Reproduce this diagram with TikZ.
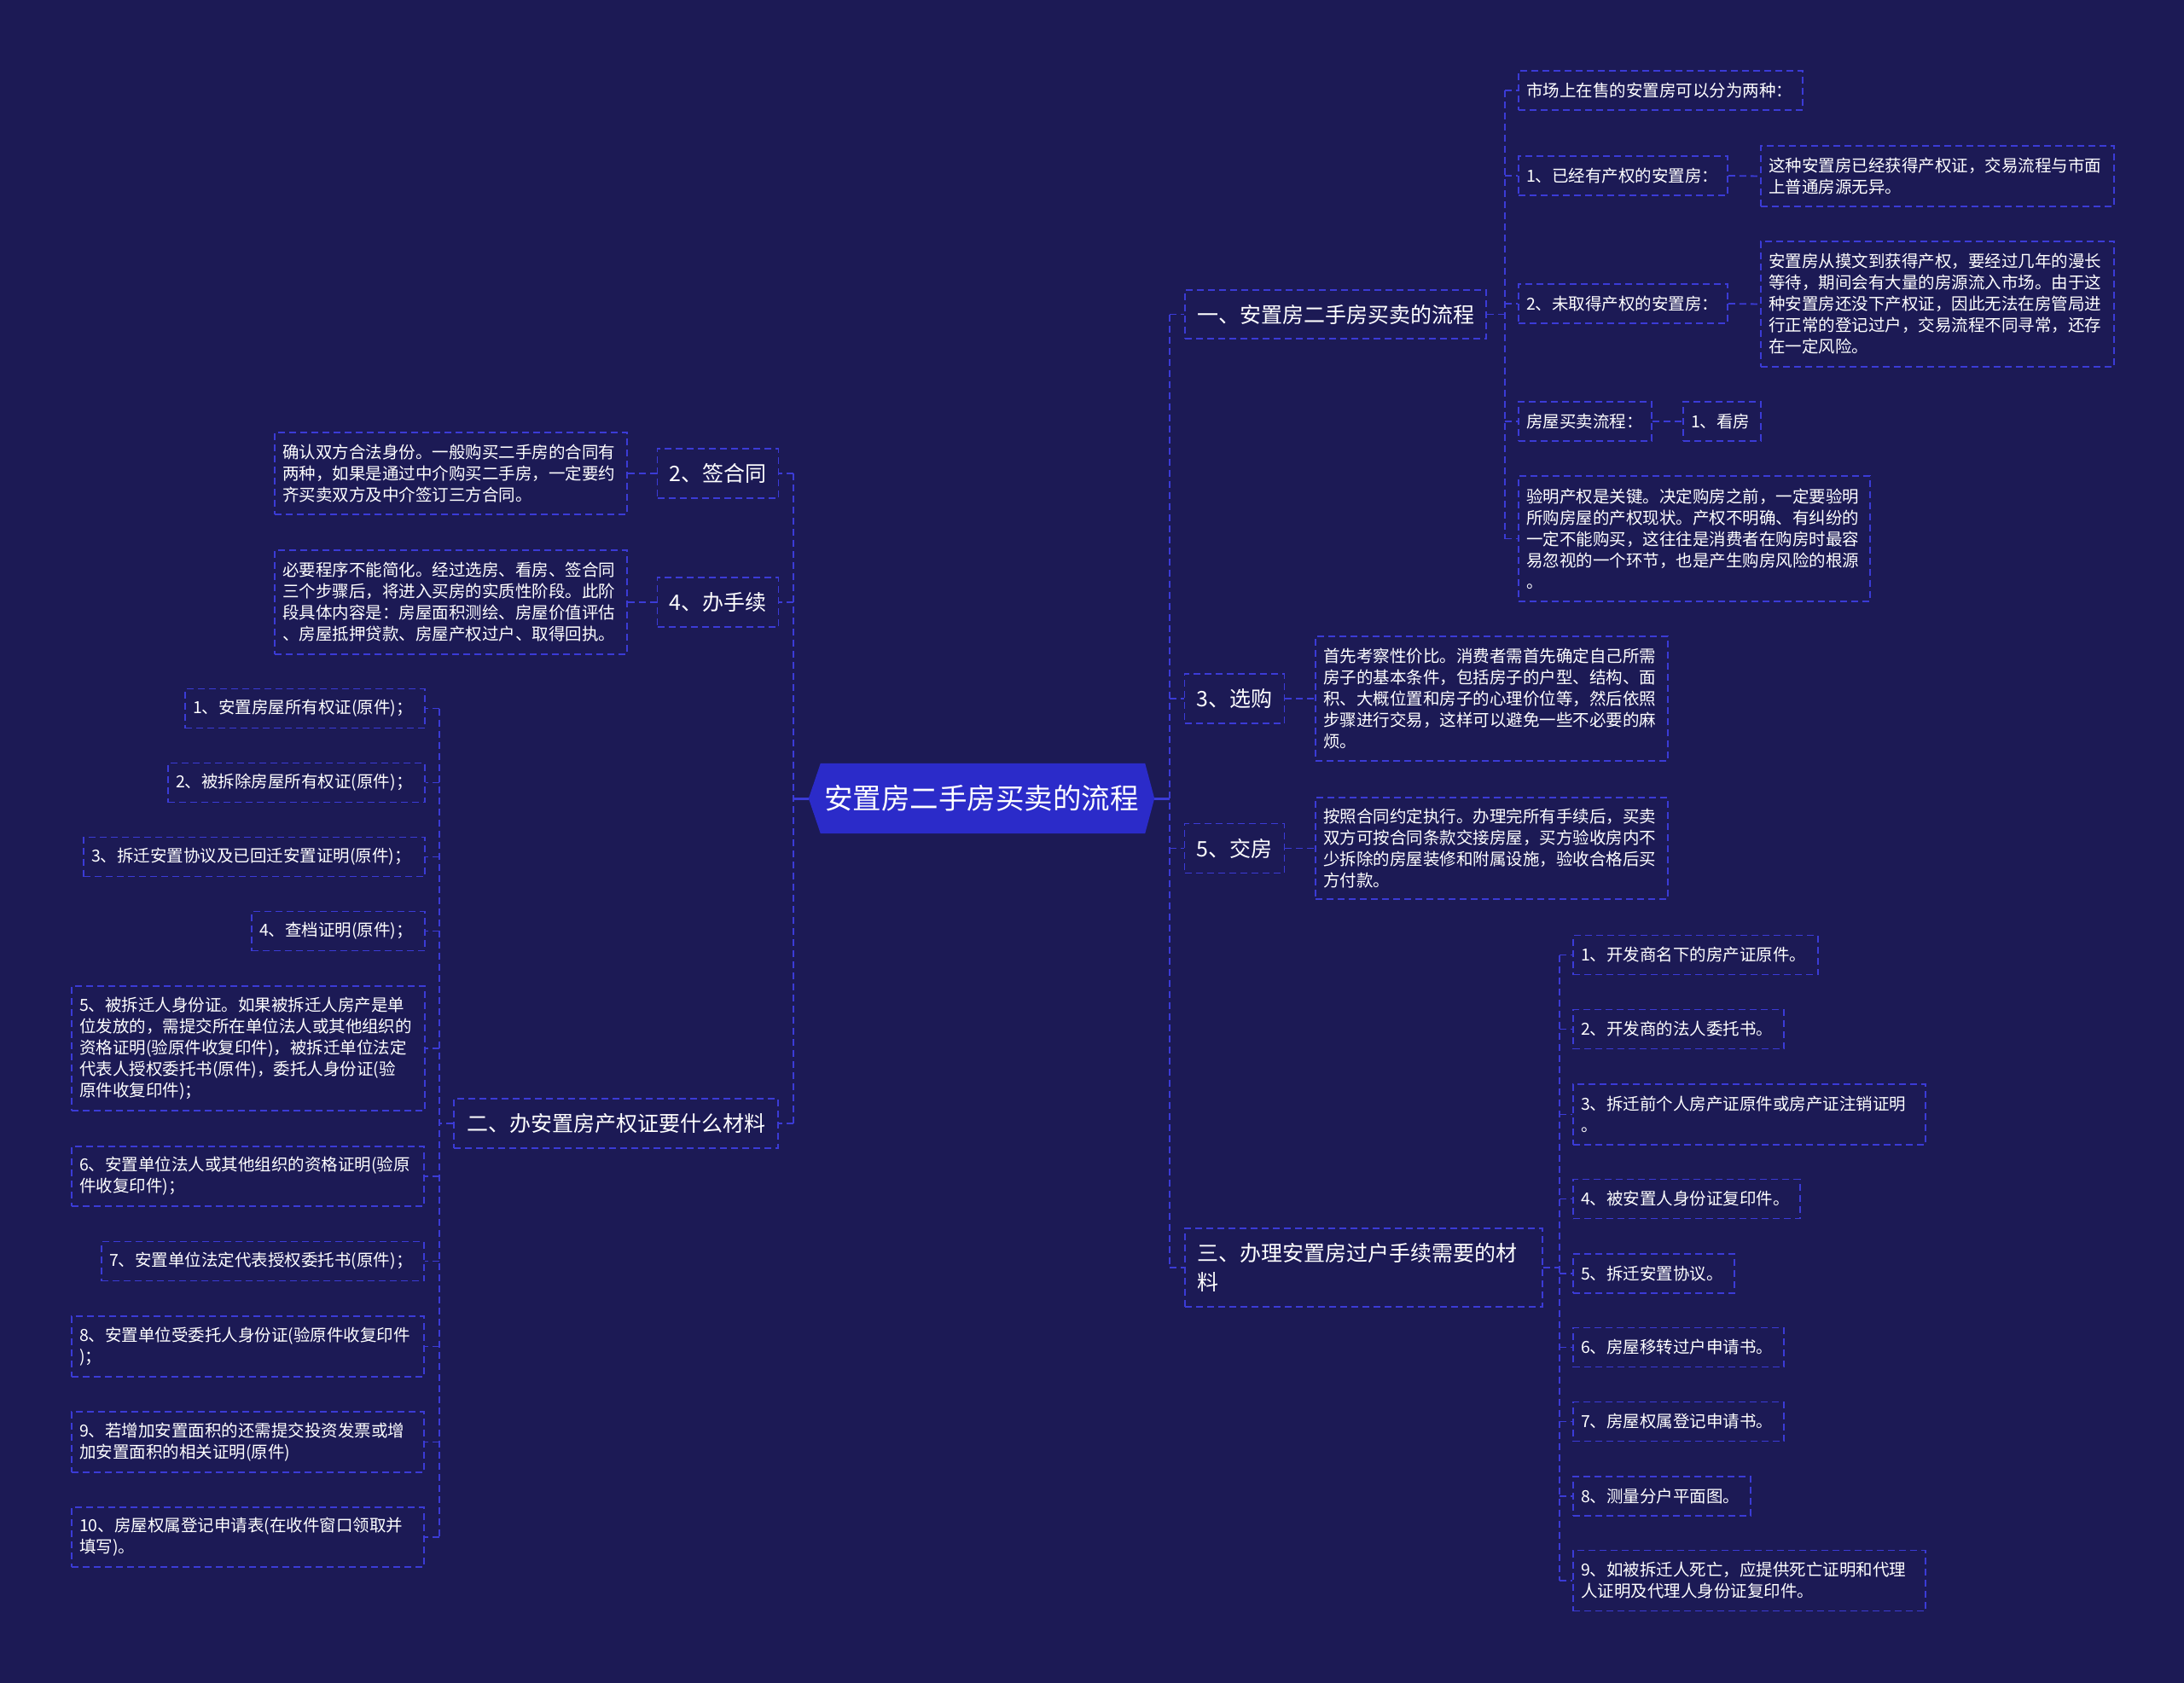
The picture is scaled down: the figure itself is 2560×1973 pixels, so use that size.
\documentclass[tikz,border=0pt]{standalone}
\usepackage{fontspec}
\setmainfont{Noto Sans CJK SC}
\usetikzlibrary{calc,backgrounds}
\definecolor{bgc}{RGB}{28,26,85}
\definecolor{lc}{RGB}{59,59,214}
\definecolor{cfill}{RGB}{43,43,201}
\begin{document}
\begin{tikzpicture}[x=1pt,y=-1pt,
  conn/.style={draw=lc,line width=1.8pt,dash pattern=on 8pt off 5pt},
  solidc/.style={draw=lc,line width=3pt},
  leaf/.style={draw=lc,line width=1.8pt,dash pattern=on 8pt off 5pt,text=white,
    font=\fontsize{19.5}{25}\selectfont,align=left,inner xsep=9pt,inner ysep=0pt},
  mainb/.style={draw=lc,line width=1.8pt,dash pattern=on 8pt off 5pt,text=white,
    font=\fontsize{25}{34}\selectfont,inner xsep=14pt,inner ysep=0pt,align=center},
  centre/.style={text=white,font=\fontsize{33.5}{40}\selectfont,inner sep=0pt,
    minimum width=405pt,minimum height=82pt}
]
\useasboundingbox (0,0) rectangle (2560,1973);

% centre
\node[centre] (c) at (1150.5,936) {安置房二手房买卖的流程};
\begin{scope}[on background layer]
\fill[bgc] (0,0) rectangle (2560,1973);
\fill[cfill] (c.west) -- ($(c.north west)+(14,0)$) -- ($(c.north east)+(-11,0)$) -- (c.east)
  -- ($(c.south east)+(-11,0)$) -- ($(c.south west)+(14,0)$) -- cycle;
\end{scope}

% ---------- right side ----------
\node[mainb,minimum width=353pt,minimum height=57pt] (A) at (1565.5,368.5) {一、安置房二手房买卖的流程};
\node[leaf,text width=315pt,minimum height=46pt] (A1) at (1946.5,106) {市场上在售的安置房可以分为两种：};
\node[leaf,text width=227pt,minimum height=46pt] (A2) at (1902.5,206) {1、已经有产权的安置房：};
\node[leaf,text width=396pt,minimum height=71pt] (A2r) at (2271,206.5) {这种安置房已经获得产权证，交易流程与市面\\上普通房源无异。};
\node[leaf,text width=227pt,minimum height=46pt] (A3) at (1902.5,356) {2、未取得产权的安置房：};
\node[leaf,text width=396pt,minimum height=147pt] (A3r) at (2271,356.5) {安置房从摸文到获得产权，要经过几年的漫长\\等待，期间会有大量的房源流入市场。由于这\\种安置房还没下产权证，因此无法在房管局进\\行正常的登记过户，交易流程不同寻常，还存\\在一定风险。};
\node[leaf,text width=138pt,minimum height=46pt] (A4) at (1858,494) {房屋买卖流程：};
\node[leaf,text width=73pt,minimum height=46pt] (A4r) at (2018.5,494) {1、看房};
\node[leaf,text width=394pt,minimum height=147pt] (A5) at (1986,631.5) {验明产权是关键。决定购房之前，一定要验明\\所购房屋的产权现状。产权不明确、有纠纷的\\一定不能购买，这往往是消费者在购房时最容\\易忽视的一个环节，也是产生购房风险的根源\\。};

\node[mainb,minimum width=116pt,minimum height=58pt] (B) at (1447,819) {3、选购};
\node[leaf,text width=395pt,minimum height=146pt] (Br) at (1748.5,819) {首先考察性价比。消费者需首先确定自己所需\\房子的基本条件，包括房子的户型、结构、面\\积、大概位置和房子的心理价位等，然后依照\\步骤进行交易，这样可以避免一些不必要的麻\\烦。};

\node[mainb,minimum width=116pt,minimum height=58pt] (C) at (1447,994.5) {5、交房};
\node[leaf,text width=395pt,minimum height=119pt] (Cr) at (1748.5,994.5) {按照合同约定执行。办理完所有手续后，买卖\\双方可按合同条款交接房屋，买方验收房内不\\少拆除的房屋装修和附属设施，验收合格后买\\方付款。};

\node[mainb,text width=391pt,align=left,minimum height=92pt] (D) at (1598.5,1486) {三、办理安置房过户手续需要的材\\料};
\node[leaf,text width=269pt,minimum height=46pt] (D1) at (1987.5,1119.5) {1、开发商名下的房产证原件。};
\node[leaf,text width=229pt,minimum height=46pt] (D2) at (1967.5,1206.5) {2、开发商的法人委托书。};
\node[leaf,text width=395pt,minimum height=71pt] (D3) at (2050.5,1306.5) {3、拆迁前个人房产证原件或房产证注销证明\\。};
\node[leaf,text width=248pt,minimum height=46pt] (D4) at (1977,1405.5) {4、被安置人身份证复印件。};
\node[leaf,text width=171pt,minimum height=46pt] (D5) at (1938.5,1493) {5、拆迁安置协议。};
\node[leaf,text width=229pt,minimum height=46pt] (D6) at (1967.5,1579.5) {6、房屋移转过户申请书。};
\node[leaf,text width=229pt,minimum height=46pt] (D7) at (1967.5,1666.5) {7、房屋权属登记申请书。};
\node[leaf,text width=190pt,minimum height=46pt] (D8) at (1948,1754) {8、测量分户平面图。};
\node[leaf,text width=395pt,minimum height=71pt] (D9) at (2050.5,1853) {9、如被拆迁人死亡，应提供死亡证明和代理\\人证明及代理人身份证复印件。};

% ---------- left side ----------
\node[mainb,minimum width=141pt,minimum height=58pt] (E) at (841.5,555) {2、签合同};
\node[leaf,text width=395pt,minimum height=96pt] (El) at (528.5,555) {确认双方合法身份。一般购买二手房的合同有\\两种，如果是通过中介购买二手房，一定要约\\齐买卖双方及中介签订三方合同。};
\node[mainb,minimum width=141pt,minimum height=58pt] (F) at (841.5,706) {4、办手续};
\node[leaf,text width=395pt,minimum height=122pt] (Fl) at (528.5,706) {必要程序不能简化。经过选房、看房、签合同\\三个步骤后，将进入买房的实质性阶段。此阶\\段具体内容是：房屋面积测绘、房屋价值评估\\、房屋抵押贷款、房屋产权过户、取得回执。};

\node[mainb,minimum width=380pt,minimum height=58pt] (G) at (722,1317) {二、办安置房产权证要什么材料};
\node[leaf,text width=263pt,minimum height=46pt] (G1) at (357.5,830.5) {1、安置房屋所有权证(原件)；};
\node[leaf,text width=283pt,minimum height=46pt] (G2) at (347.5,917.5) {2、被拆除房屋所有权证(原件)；};
\node[leaf,text width=382pt,minimum height=46pt] (G3) at (298,1004.5) {3、拆迁安置协议及已回迁安置证明(原件)；};
\node[leaf,text width=185pt,minimum height=46pt] (G4) at (396.5,1091.5) {4、查档证明(原件)；};
\node[leaf,text width=396pt,minimum height=146pt] (G5) at (291,1229) {5、被拆迁人身份证。如果被拆迁人房产是单\\位发放的，需提交所在单位法人或其他组织的\\资格证明(验原件收复印件)，被拆迁单位法定\\代表人授权委托书(原件)，委托人身份证(验\\原件收复印件)；};
\node[leaf,text width=395pt,minimum height=70pt] (G6) at (290.5,1379) {6、安置单位法人或其他组织的资格证明(验原\\件收复印件)；};
\node[leaf,text width=360pt,minimum height=46pt] (G7) at (308,1478.5) {7、安置单位法定代表授权委托书(原件)；};
\node[leaf,text width=395pt,minimum height=71pt] (G8) at (290.5,1578.5) {8、安置单位受委托人身份证(验原件收复印件\\)；};
\node[leaf,text width=395pt,minimum height=71pt] (G9) at (290.5,1690.5) {9、若增加安置面积的还需提交投资发票或增\\加安置面积的相关证明(原件)};
\node[leaf,text width=395pt,minimum height=70pt] (G10) at (290.5,1802) {10、房屋权属登记申请表(在收件窗口领取并\\填写)。};

% ---------- connectors ----------
\draw[solidc] (c.east) -- ++(18,0) coordinate (r0);
\draw[conn] (r0 |- A.west) -- (r0 |- D.west);
\foreach \n in {A,B,C,D} \draw[conn] (r0 |- \n.west) -- (\n.west);

\draw[solidc] (c.west) -- ++(-18,0) coordinate (l0);
\draw[conn] (l0 |- E.east) -- (l0 |- G.east);
\foreach \n in {E,F,G} \draw[conn] (l0 |- \n.east) -- (\n.east);

\draw[conn] (A.east) -- ++(21,0) coordinate (a0);
\draw[conn] (a0 |- A1.west) -- (a0 |- A5.west);
\foreach \n in {A1,A2,A3,A4,A5} \draw[conn] (a0 |- \n.west) -- (\n.west);
\draw[conn] (A2.east) -- (A2r.west);
\draw[conn] (A3.east) -- (A3r.west);
\draw[conn] (A4.east) -- (A4r.west);

\draw[conn] (B.east) -- (Br.west);
\draw[conn] (C.east) -- (Cr.west);

\draw[conn] (D.east) -- ++(19,0) coordinate (d0);
\draw[conn] (d0 |- D1.west) -- (d0 |- D9.west);
\foreach \n in {D1,D2,D3,D4,D5,D6,D7,D8,D9} \draw[conn] (d0 |- \n.west) -- (\n.west);

\draw[conn] (E.west) -- (El.east);
\draw[conn] (F.west) -- (Fl.east);

\draw[conn] (G.west) -- ++(-16,0) coordinate (g0);
\draw[conn] (g0 |- G1.east) -- (g0 |- G10.east);
\foreach \n in {G1,G2,G3,G4,G5,G6,G7,G8,G9,G10} \draw[conn] (g0 |- \n.east) -- (\n.east);
\end{tikzpicture}
\end{document}
